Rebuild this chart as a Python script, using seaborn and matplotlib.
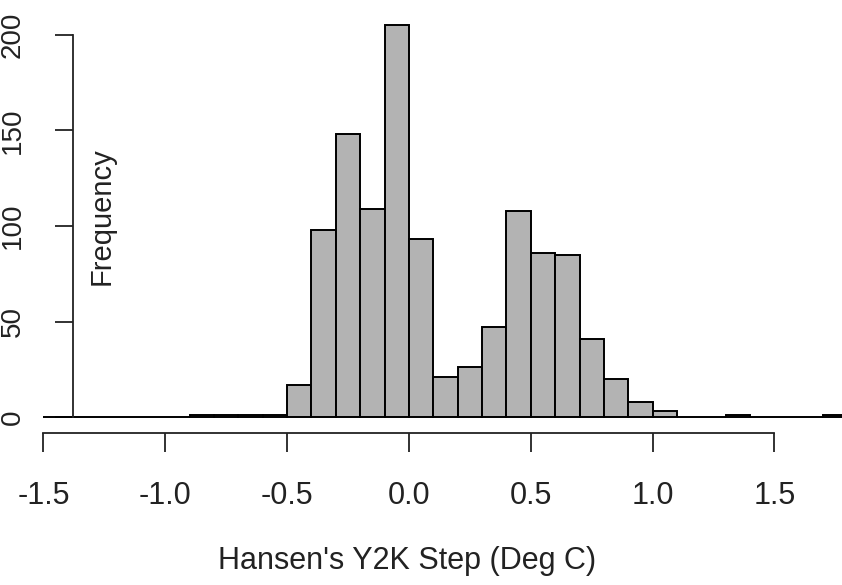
import numpy as np
import pandas as pd
import matplotlib
matplotlib.use("Agg")
import matplotlib.pyplot as plt
import seaborn as sns

# histogram of Hansen's Y2K step, bins of 0.1 deg C from -1.5 to 1.8
bin_edges = [round(-1.5 + 0.1 * i, 1) for i in range(34)]
counts = [0, 0, 0, 0, 0, 0,          # -1.5 .. -0.9
          1, 1, 1, 1,                # -0.9 .. -0.5
          17, 98, 148, 109, 205, 93,  # -0.5 .. 0.1
          21, 26, 47, 108, 86, 85,    # 0.1 .. 0.7
          41, 20, 8, 3, 0, 0,         # 0.7 .. 1.3
          1, 0, 0, 0, 1]              # 1.3 .. 1.8
x_ticks = [-1.5, -1.0, -0.5, 0.0, 0.5, 1.0, 1.5]
y_ticks = [0, 50, 100, 150, 200]

df = pd.DataFrame({
    'step': [(a + b) / 2 for a, b in zip(bin_edges[:-1], bin_edges[1:])],
    'count': counts,
})

sns.set_style("white")
plt.rcParams['font.family'] = ['Liberation Sans', 'DejaVu Sans']

fig = plt.figure(figsize=(8.42, 5.85), dpi=100)
ax = fig.add_axes([0, 0, 1, 1])

sns.histplot(data=df, x='step', weights='count', bins=bin_edges,
             color='#b3b3b3', edgecolor='black', linewidth=1.4,
             alpha=1, ax=ax)

ax.set_xlim(-1.678, 1.777)
ax.set_ylim(-87.7, 218.1)

# R style detached axes
for side in ['top', 'right']:
    ax.spines[side].set_visible(False)
ax.spines['left'].set_position(('data', -1.379))
ax.spines['left'].set_bounds(0, 200)
ax.spines['bottom'].set_position(('data', -8.36))
ax.spines['bottom'].set_bounds(-1.5, 1.5)
for side in ['left', 'bottom']:
    ax.spines[side].set_linewidth(1.3)
    ax.spines[side].set_color('#222222')

ax.set_xticks(x_ticks)
ax.set_xticklabels([f"{t:.1f}" for t in x_ticks])
ax.set_yticks(y_ticks)
ax.set_yticklabels([str(t) for t in y_ticks])
ax.tick_params(axis='x', bottom=True, direction='out', length=13.5, width=1.3,
               pad=21, labelsize=22, colors='#222222')
ax.tick_params(axis='y', left=True, direction='out', length=13, width=1.3,
               pad=21, labelsize=20, labelrotation=90, colors='#222222')
for lab in ax.get_yticklabels():
    lab.set_va('center')

ax.set_xlabel('')
ax.set_ylabel('')
fig.text(102 / 842, 1 - 216 / 585, 'Frequency', rotation=90,
         ha='center', va='center', fontsize=21, color='#222222')
fig.text(407 / 842, 1 - 561 / 585, "Hansen's Y2K Step (Deg C)",
         ha='center', va='center', fontsize=22, color='#222222')

plt.savefig("out.png", dpi=100)
